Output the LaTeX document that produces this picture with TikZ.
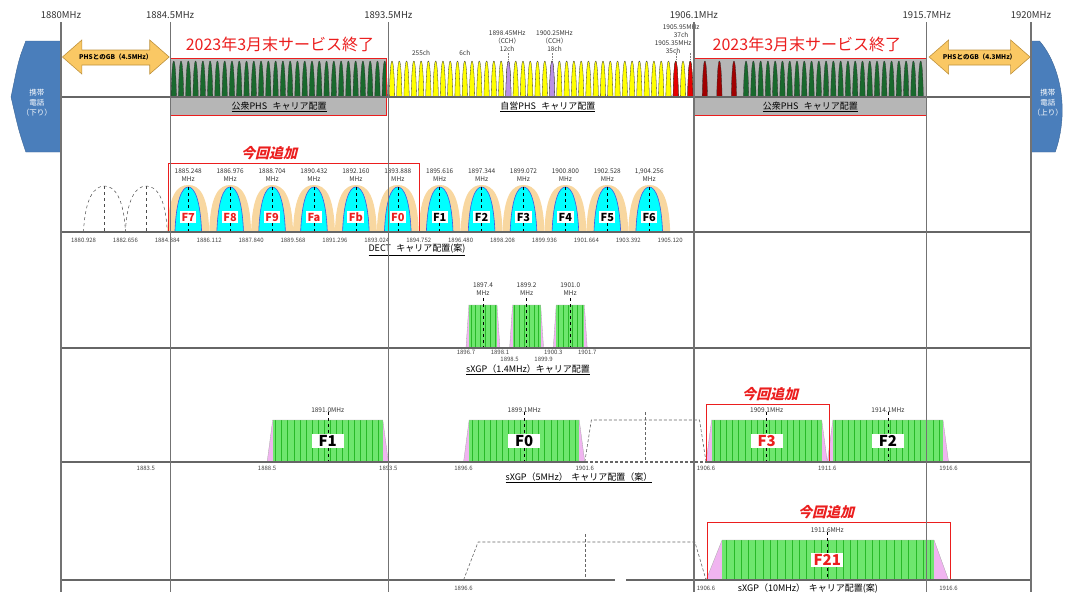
\documentclass[tikz,border=0pt]{standalone}
\usepackage{fontspec}
\setmainfont{Noto Sans CJK JP}
\newfontfamily\jpslant[FakeSlant=0.25]{Noto Sans CJK JP}
\usetikzlibrary{positioning}

\definecolor{phsgreen}{RGB}{25,105,45}
\definecolor{phsdark}{RGB}{160,0,0}
\definecolor{phsred}{RGB}{230,0,0}
\definecolor{phsyellow}{RGB}{255,255,0}
\definecolor{phspurple}{RGB}{185,145,230}
\definecolor{bandgray}{RGB}{182,182,182}
\definecolor{gbfill}{RGB}{250,200,100}
\definecolor{gbdraw}{RGB}{190,145,60}
\definecolor{mobileblue}{RGB}{74,126,187}
\definecolor{dectcyan}{RGB}{0,255,255}
\definecolor{dectblue}{RGB}{60,90,230}
\definecolor{decttan}{RGB}{248,215,160}
\definecolor{xgpgreen}{RGB}{110,230,110}
\definecolor{xgpstripe}{RGB}{40,185,40}
\definecolor{xgppink}{RGB}{240,180,240}
\definecolor{addred}{RGB}{235,30,30}

\tikzset{
  vline/.style={draw=black!55, line width=1.2pt},
  axisline/.style={draw=black!60, line width=1.2pt},
  phsspike/.style={draw=black!80, line width=0.3pt},
  toplabel/.style={font=\fontsize{9.5}{10}\selectfont, text=black!80, inner sep=0pt},
  tinytext/.style={font=\fontsize{6.5}{8}\selectfont, text=black!80, align=center, inner sep=0pt},
  ticktext/.style={font=\fontsize{6}{6}\selectfont, text=black!75, inner sep=0pt},
  rowtitle/.style={font=\fontsize{9}{10}\selectfont, inner sep=0pt},
  flabel/.style={fill=white, font=\bfseries\fontsize{11}{12}\selectfont, inner sep=1.5pt},
  fbig/.style={fill=white, font=\bfseries\fontsize{15}{16}\selectfont, inner sep=1.5pt, minimum width=32pt},
  endtext/.style={text=addred, font=\fontsize{16}{18}\selectfont, inner sep=0pt},
  addtext/.style={text=addred, font=\jpslant\bfseries\fontsize{14}{16}\selectfont, inner sep=0pt},
  addbox/.style={draw=addred, line width=1pt},
  gbarrow/.style={fill=gbfill, draw=gbdraw, line width=0.6pt},
  gbtext/.style={font=\bfseries\fontsize{6.5}{7}\selectfont, inner sep=0pt},
  mobile/.style={fill=mobileblue, draw=mobileblue!80!black, line width=0.4pt},
  mobiletext/.style={text=white, font=\fontsize{7.5}{10}\selectfont, align=center, inner sep=0pt},
  pics/spike/.style={code={
    \filldraw[phsspike, fill=#1] (-0.11,97) .. controls (-0.09,72) and (-0.05,61) .. (0,61)
      .. controls (0.05,61) and (0.09,72) .. (0.11,97) -- cycle;
  }},
}

\begin{document}
\begin{tikzpicture}[x=24.25pt, y=-1pt]
\useasboundingbox (-2.5155,0) rectangle (41.732,592);

% mobile bands and guard bands
\filldraw[mobile] (0,41) -- (-1.45,41) .. controls (-1.75,60) .. (-2.06,97)
  .. controls (-1.75,130) .. (-1.45,152) -- (0,152) -- cycle;
\filldraw[mobile] (40,41) -- (40.35,41) .. controls (41.2,65) and (41.6,110) .. (41.0,152)
  -- (40,152) -- cycle;
\node[mobiletext] (dl) at (-0.99,103) {携帯\\電話\\（下り）};
\node[mobiletext] (ul) at (40.7,103) {携帯\\電話\\（上り）};

\filldraw[gbarrow] (0.06,57) -- (0.86,40) -- (0.86,50) -- (3.66,50) -- (3.66,40) -- (4.46,57)
  -- (3.66,74) -- (3.66,65) -- (0.86,65) -- (0.86,74) -- cycle;
\filldraw[gbarrow] (35.8,57) -- (36.6,40) -- (36.6,50) -- (39.16,50) -- (39.16,40) -- (39.96,57)
  -- (39.16,74) -- (39.16,65) -- (36.6,65) -- (36.6,74) -- cycle;
\node[gbtext] (gbl) at (2.26,57) {PHSとのGB（4.5MHz）};
\node[gbtext] (gbr) at (37.88,57) {PHSとのGB（4.3MHz）};

% PHS carriers
\fill[bandgray] (4.5,58) rectangle (13.44,115);
\fill[bandgray] (26.1,58) rectangle (35.7,115);
\foreach \k in {0,...,29}
  \pic at ({4.65+0.3*\k},0) {spike=phsgreen};
\foreach \k in {0,...,41}
  \pic at ({13.65+0.3*\k},0) {spike=phsyellow};
\foreach \f/\col in {18.45/phspurple, 20.25/phspurple, 25.35/phsred, 25.95/phsred}
  \pic at (\f,0) {spike=\col};
\foreach \f in {26.55,27.15,27.75}
  \pic at (\f,0) {spike=phsdark};
\foreach \k in {0,...,24}
  \pic at ({28.25+0.3*\k},0) {spike=phsgreen};
\foreach \f in {18.45,20.25,25.35,25.95}
  \draw[densely dotted, black!50, line width=0.4pt] (\f,53) -- (\f,59);
\draw[addbox] (4.5,58) rectangle (13.44,115);
\draw[addbox] (26.1,58) rectangle (35.7,115);

\node[tinytext] (ch255) at (14.85,53) {255ch};
\node[tinytext] (ch6) at (16.65,53) {6ch};
\node[tinytext] (ch12) at (18.4,41) {1898.45MHz\\（CCH）\\12ch};
\node[tinytext] (ch18) at (20.35,41) {1900.25MHz\\（CCH）\\18ch};
\node[tinytext] (ch37) at (25.57,31) {1905.95MHz\\37ch};
\node[tinytext] (ch35) at (25.24,47) {1905.35MHz\\35ch};

\node[rowtitle] (publ) at (8.99,107) {\underline{公衆PHS\hspace{0.6em}キャリア配置}};
\node[rowtitle] (priv) at (20.08,107) {\underline{自営PHS\hspace{0.6em}キャリア配置}};
\node[rowtitle] (pubr) at (30.9,107) {\underline{公衆PHS\hspace{0.6em}キャリア配置}};
\node[endtext] (endl) at (9.03,44) {2023年3月末サービス終了};
\node[endtext] (endr) at (30.76,44) {2023年3月末サービス終了};

% DECT
\foreach \c in {1.792,3.520} {
  \draw[dashed, black!70, line width=0.5pt] (\c-0.864,232) .. controls (\c-0.8,198) and (\c-0.42,186) .. (\c,186)
    .. controls (\c+0.42,186) and (\c+0.8,198) .. (\c+0.864,232);
  \draw[dashed, black!70, line width=0.5pt] (\c,186) -- (\c,232);
}
\foreach \c/\fq/\lab/\col in {5.248/1885.248/F7/addred, 6.976/1886.976/F8/addred, 8.704/1888.704/F9/addred,
    10.432/1890.432/Fa/addred, 12.160/1892.160/Fb/addred, 13.888/1893.888/F0/addred,
    15.616/1895.616/F1/black, 17.344/1897.344/F2/black, 19.072/1899.072/F3/black,
    20.800/1900.800/F4/black, 22.528/1902.528/F5/black, 24.256/{1,904.256}/F6/black} {
  \fill[decttan] (\c-0.864,232) .. controls (\c-0.82,194) and (\c-0.45,185) .. (\c,185)
    .. controls (\c+0.45,185) and (\c+0.82,194) .. (\c+0.864,232) -- cycle;
  \filldraw[fill=dectcyan, draw=dectblue, line width=0.6pt] (\c-0.55,232) .. controls (\c-0.5,200) and (\c-0.26,187) .. (\c,187)
    .. controls (\c+0.26,187) and (\c+0.5,200) .. (\c+0.55,232);
  \draw[dashed, line width=0.5pt] (\c,187) -- (\c,232);
  \node[flabel, text=\col] (dect-\lab) at (\c,217) {\lab};
  \node[tinytext] (dectf-\lab) at (\c,175) {\fq\\MHz};
}
\foreach \c/\fq [count=\i] in {0.928/1880.928, 2.656/1882.656, 4.384/1884.384, 6.112/1886.112,
    7.840/1887.840, 9.568/1889.568, 11.296/1891.296, 13.024/1893.024, 14.752/1894.752,
    16.480/1896.480, 18.208/1898.208, 19.936/1899.936, 21.664/1901.664, 23.392/1903.392, 25.120/1905.120}
  \node[ticktext] (dectt\i) at (\c,240) {\fq};
\draw[addbox] (4.45,163) -- (14.8,163) -- (14.8,232) -- (4.45,232) -- cycle;
\node[addtext] (adda) at (8.58,153) {今回追加};
\node[rowtitle] (dectt) at (14.68,250) {\underline{DECT\hspace{0.6em}キャリア配置(案)}};

% sXGP 1.4MHz
\foreach \c/\fq [count=\i] in {17.4/1897.4, 19.2/1899.2, 21.0/1901.0} {
  \fill[xgppink] (\c-0.7,348) -- (\c-0.58,305) -- (\c+0.58,305) -- (\c+0.7,348) -- cycle;
  \fill[xgpgreen] (\c-0.58,305) rectangle (\c+0.58,348);
  \foreach \s in {-0.5,-0.3,...,0.55}
    \draw[xgpstripe, line width=0.6pt] (\c+\s,305) -- (\c+\s,348);
  \draw[black!35, line width=0.3pt] (\c-0.7,348) -- (\c-0.58,305) -- (\c+0.58,305) -- (\c+0.7,348);
  \draw[dashed, line width=0.5pt] (\c,298) -- (\c,348);
  \node[tinytext] (xgpa-\i) at (\c,289) {\fq\\MHz};
}
\foreach \c/\fq/\y [count=\i] in {16.7/1896.7/352, 18.1/1898.1/352, 18.5/1898.5/359,
    19.9/1899.9/359, 20.3/1900.3/352, 21.7/1901.7/352}
  \node[ticktext] (xgpat\i) at (\c,\y) {\fq};
\node[rowtitle] (xgpat) at (19.26,370) {\underline{sXGP（1.4MHz）キャリア配置}};

% sXGP 5MHz
\draw[densely dashed, black!60, line width=0.6pt] (21.6,462) -- (21.87,420) -- (26.33,420) -- (26.6,462);
\draw[densely dashed, black!60, line width=0.6pt] (24.1,412) -- (24.1,462);
\foreach \c/\fq/\lab/\col in {11.0/1891.0/F1/black, 19.1/1899.1/F0/black, 29.1/1909.1/F3/addred, 34.1/1914.1/F2/black} {
  \fill[xgppink] (\c-2.5,462) -- (\c-2.27,420) -- (\c+2.27,420) -- (\c+2.5,462) -- cycle;
  \fill[xgpgreen] (\c-2.27,420) rectangle (\c+2.27,462);
  \foreach \s in {-2.15,-1.9,...,2.2}
    \draw[xgpstripe, line width=0.6pt] (\c+\s,420) -- (\c+\s,462);
  \draw[black!35, line width=0.3pt] (\c-2.5,462) -- (\c-2.27,420) -- (\c+2.27,420) -- (\c+2.5,462);
  \draw[dashed, line width=0.5pt] (\c,412) -- (\c,462);
  \node[fbig, text=\col] (xgpe-\lab) at (\c,441) {\lab};
  \node[tinytext] (xgpef-\lab) at (\c,410) {\fq MHz};
}
\foreach \c/\fq [count=\i] in {3.5/1883.5, 8.5/1888.5, 13.5/1893.5, 16.6/1896.6, 21.6/1901.6,
    26.6/1906.6, 31.6/1911.6, 36.6/1916.6}
  \node[ticktext] (xgpet\i) at (\c,468) {\fq};
\draw[addbox] (26.6,462) -- (26.6,404) -- (31.67,404) -- (31.67,462);
\node[addtext] (addb) at (29.24,394) {今回追加};
\node[rowtitle] (xgpet) at (21.36,478) {\underline{sXGP（5MHz）\hspace{0.4em}キャリア配置（案）}};

% sXGP 10MHz
\draw[densely dashed, black!60, line width=0.6pt] (16.6,580) -- (17.2,542) -- (26.14,542) -- (26.6,580);
\draw[densely dashed, black!60, line width=0.6pt] (21.6,534) -- (21.6,580);
\fill[xgppink] (26.6,580) -- (27.26,540) -- (36.0,540) -- (36.6,580) -- cycle;
\fill[xgpgreen] (27.26,540) rectangle (36.0,580);
\foreach \s in {27.45,27.75,...,35.9}
  \draw[xgpstripe, line width=0.6pt] (\s,540) -- (\s,580);
\draw[black!35, line width=0.3pt] (26.6,580) -- (27.26,540) -- (36.0,540) -- (36.6,580);
\draw[dashed, line width=0.5pt] (31.6,532) -- (31.6,580);
\node[fbig, text=addred] (xgpj) at (31.6,560) {F21};
\node[tinytext] (xgpjf) at (31.6,530) {1911.6MHz};
\draw[addbox] (26.64,580) -- (26.64,522) -- (36.7,522) -- (36.7,580);
\node[addtext] (addc) at (31.55,512) {今回追加};
\foreach \c/\fq [count=\i] in {16.6/1896.6, 26.6/1906.6, 36.6/1916.6}
  \node[ticktext] (xgpjt\i) at (\c,588) {\fq};
\node[rowtitle] (xgpjt) at (30.8,590) {\underline{sXGP（10MHz）\hspace{0.4em}キャリア配置(案)}};

% axes
\foreach \y in {97,232,348}
  \draw[axisline] (0,\y) -- (40,\y);
\draw[axisline] (0,462) -- (21.6,462);
\draw[axisline, densely dashed] (21.6,462) -- (26.6,462);
\draw[axisline] (26.6,462) -- (40,462);
\draw[axisline] (0,580) -- (22.85,580);
\draw[axisline] (23.3,580) -- (40,580);
\foreach \f/\fq [count=\i] in {0/1880MHz, 4.5/1884.5MHz, 13.5/1893.5MHz, 26.1/1906.1MHz, 35.7/1915.7MHz, 40/1920MHz} {
  \draw[vline] (\f,22) -- (\f,592);
  \node[toplabel] (top\i) at (\f,15) {\fq};
}
\end{tikzpicture}
\end{document}
